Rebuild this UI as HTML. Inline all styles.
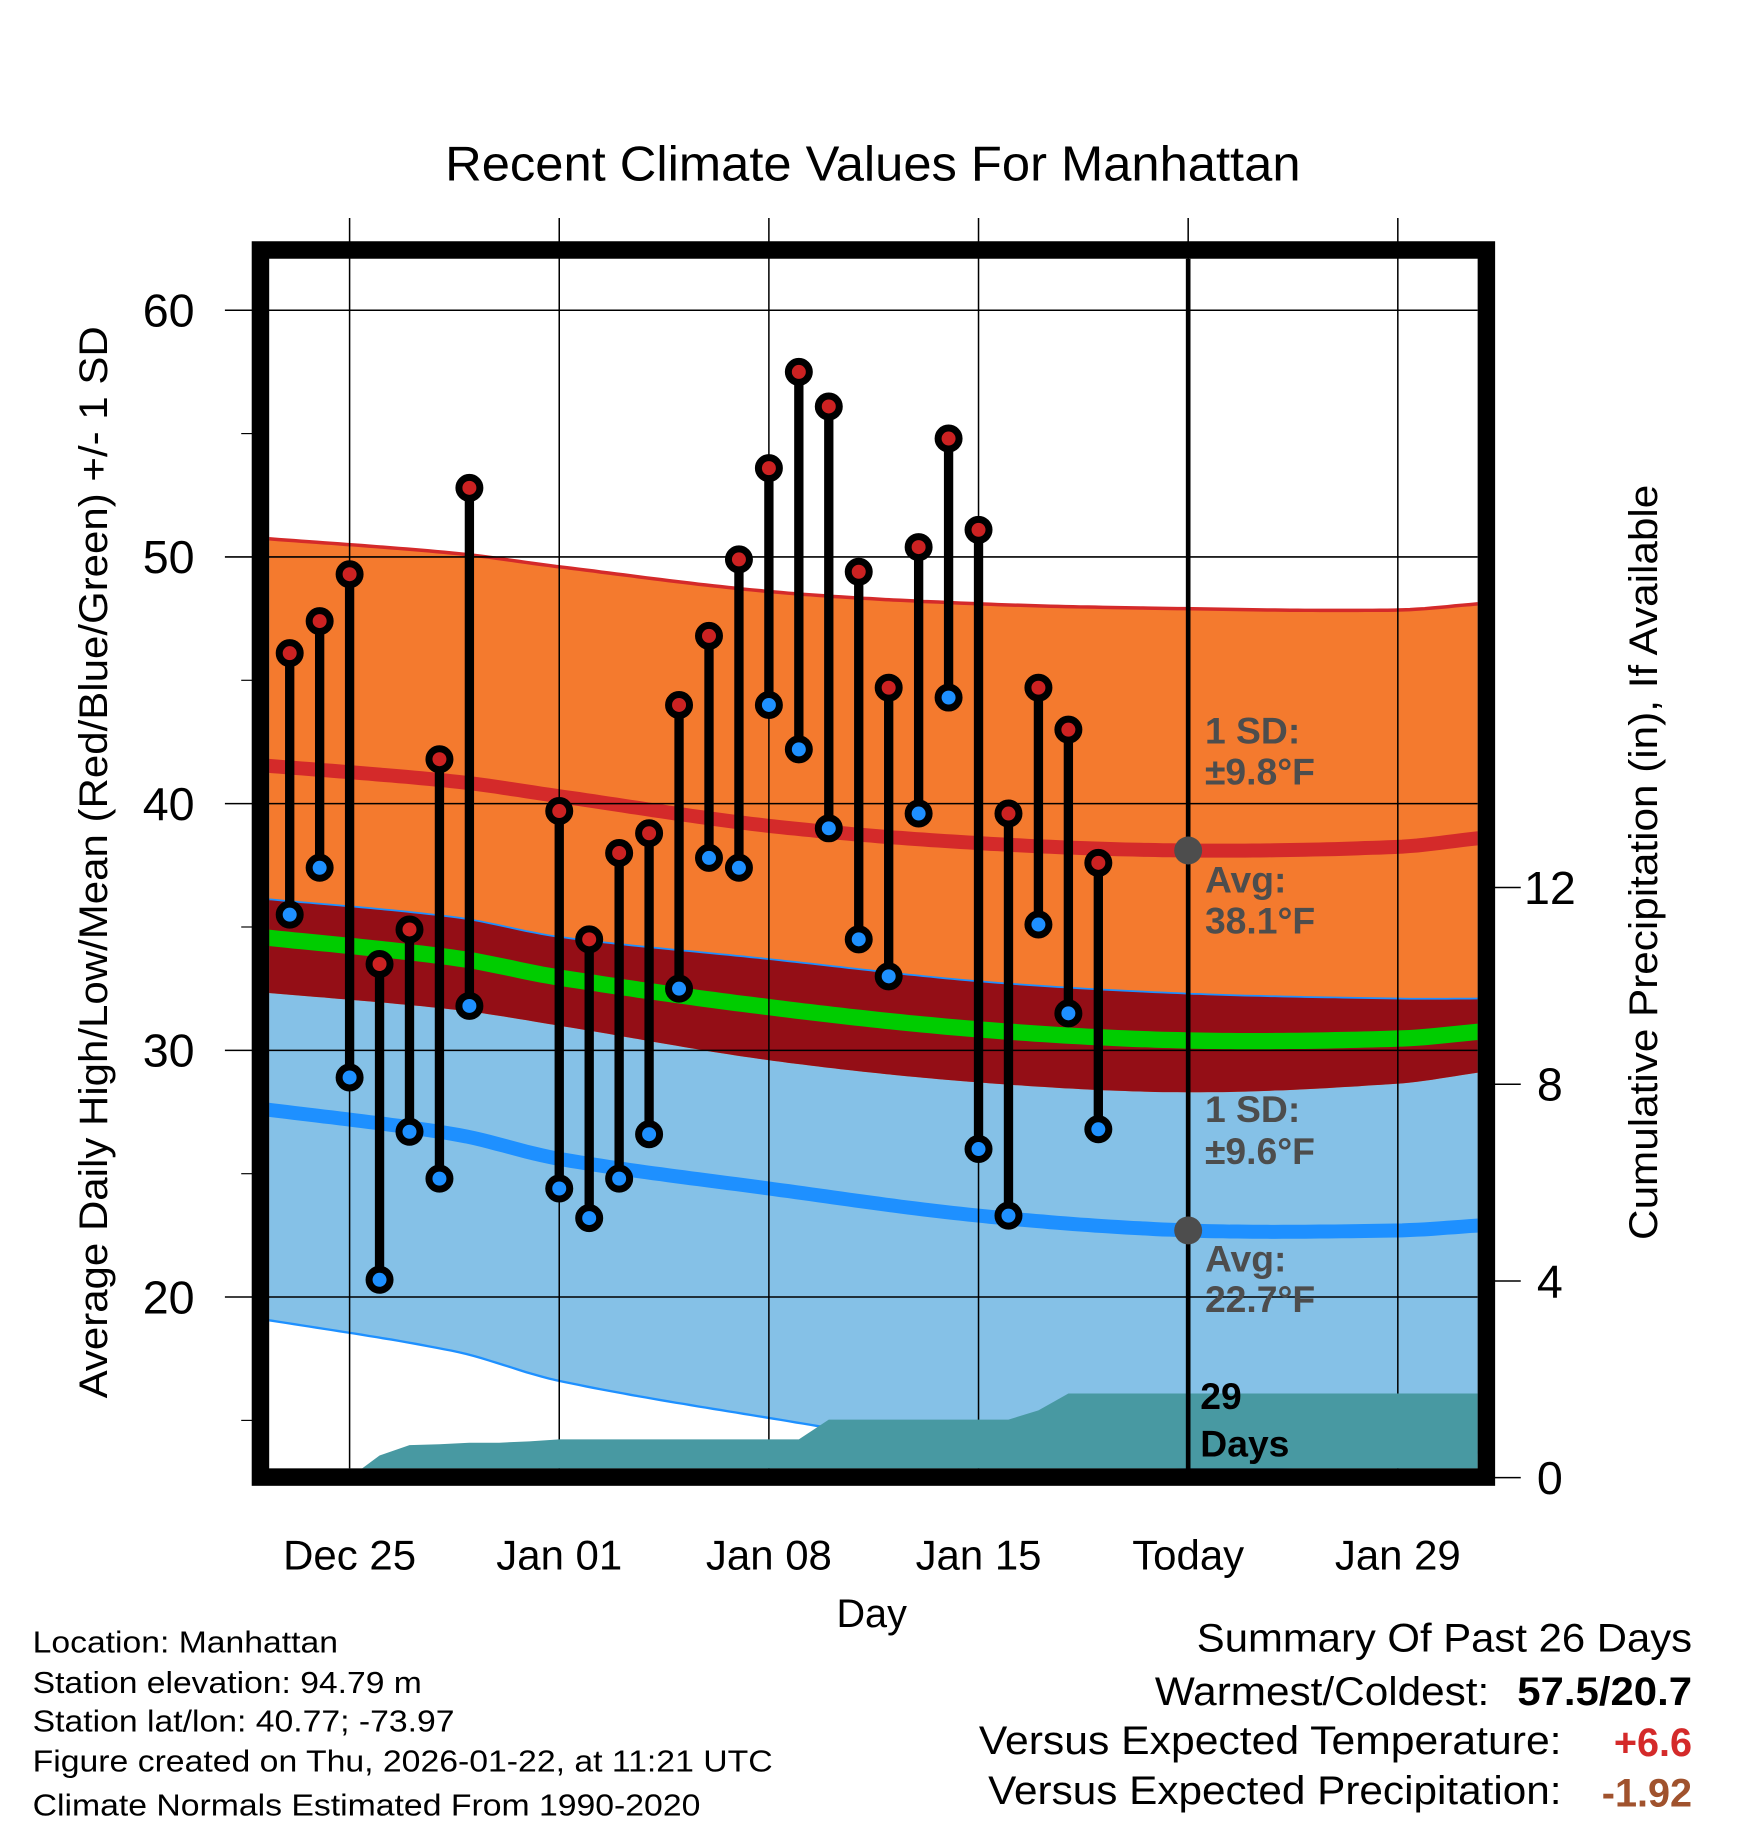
<!DOCTYPE html>
<html><head><meta charset="utf-8"><style>
html,body{margin:0;padding:0;background:#fff;}
svg{display:block;font-family:"Liberation Sans",Arial,sans-serif;}
</style></head><body>
<svg id="chart" width="1748" height="1828" viewBox="0 0 1500 1568.6" xmlns="http://www.w3.org/2000/svg">
<defs><clipPath id="pc"><rect x="231" y="222" width="1037" height="1038"/></clipPath></defs>
<text x="749" y="155" font-size="42" text-anchor="middle" textLength="734" lengthAdjust="spacingAndGlyphs">Recent Climate Values For Manhattan</text>
<g id="bands" clip-path="url(#pc)"></g>
<g id="grid"></g>
<g id="precip" clip-path="url(#pc)"></g>
<g id="marks"></g>
<g id="frame"></g>
<g id="labels"></g>
<text x="748" y="1396" font-size="34" text-anchor="middle">Day</text>
<text transform="translate(92,740) rotate(-90)" font-size="34" text-anchor="middle" textLength="920" lengthAdjust="spacingAndGlyphs">Average Daily High/Low/Mean (Red/Blue/Green) +/- 1 SD</text>
<text transform="translate(1422,740) rotate(-90)" font-size="34" text-anchor="middle" textLength="648" lengthAdjust="spacingAndGlyphs">Cumulative Precipitation (in), If Available</text>
<g font-size="26">
<text x="28" y="1418" textLength="262" lengthAdjust="spacingAndGlyphs">Location: Manhattan</text>
<text x="28" y="1453" textLength="334" lengthAdjust="spacingAndGlyphs">Station elevation: 94.79 m</text>
<text x="28" y="1486" textLength="362" lengthAdjust="spacingAndGlyphs">Station lat/lon: 40.77; -73.97</text>
<text x="28" y="1520" textLength="635" lengthAdjust="spacingAndGlyphs">Figure created on Thu, 2026-01-22, at 11:21 UTC</text>
<text x="28" y="1558" textLength="573" lengthAdjust="spacingAndGlyphs">Climate Normals Estimated From 1990-2020</text>
</g>
<g font-size="34">
<text x="1452" y="1417" text-anchor="end" textLength="425" lengthAdjust="spacingAndGlyphs">Summary Of Past 26 Days</text>
<text x="1278" y="1463" text-anchor="end" textLength="287" lengthAdjust="spacingAndGlyphs">Warmest/Coldest:</text>
<text x="1452" y="1463" text-anchor="end" font-weight="bold" textLength="150" lengthAdjust="spacingAndGlyphs">57.5/20.7</text>
<text x="1340" y="1505" text-anchor="end" textLength="500" lengthAdjust="spacingAndGlyphs">Versus Expected Temperature:</text>
<text x="1452" y="1507" text-anchor="end" font-weight="bold" fill="#d42a2a">+6.6</text>
<text x="1340" y="1548" text-anchor="end" textLength="492" lengthAdjust="spacingAndGlyphs">Versus Expected Precipitation:</text>
<text x="1452" y="1550" text-anchor="end" font-weight="bold" fill="#a0522d">-1.92</text>
</g>
</svg>
<script>
// days offset from Dec 25
const normDays=[-3.4,3.5,7,14,21,28,35,37.7];
const normHigh=[41.6,40.9,40.3,39.1,38.4,38.1,38.25,38.6];
const sdHigh=[9.2,9.25,9.3,9.5,9.7,9.8,9.6,9.5];
const normLow=[27.7,26.6,25.6,24.4,23.3,22.7,22.7,22.9];
const sdLow=[8.5,8.8,9.0,9.3,9.5,9.6,9.4,9.2];
const obsDays=[-2,-1,0,1,2,3,4,7,8,9,10,11,12,13,14,15,16,17,18,19,20,21,22,23,24,25];
const obsHigh=[46.1,47.4,49.3,33.5,34.9,41.8,52.8,39.7,34.5,38.0,38.8,44.0,46.8,49.9,53.6,57.5,56.1,49.4,44.7,50.4,54.8,51.1,39.6,44.7,43.0,37.6];
const obsLow=[35.5,37.4,28.9,20.7,26.7,24.8,31.8,24.4,23.2,24.8,26.6,32.5,37.8,37.4,44.0,42.2,39.0,34.5,33.0,39.6,44.3,26.0,23.3,35.1,31.5,26.8];
const precipDays=[0,1,2,3,4,5,6,7,8,9,10,11,12,13,14,15,16,17,18,19,20,21,22,23,24,25,37.7];
const precipCum=[0,0.45,0.66,0.68,0.71,0.71,0.74,0.78,0.78,0.78,0.78,0.78,0.78,0.78,0.78,0.78,1.18,1.18,1.18,1.18,1.18,1.18,1.18,1.37,1.71,1.71,1.71];
const xTicks=[0,7,14,21,28,35];
const xTickLabels=["Dec 25","Jan 01","Jan 08","Jan 15","Today","Jan 29"];
const yTicks=[20,30,40,50,60];
const yMinor=[15,25,35,45,55];
const pTicks=[0,4,8,12];

const X=d=>300+d*25.7, Y=t=>1113-(t-20)*21.17, P=p=>1268-p*42.2;
const NS='http://www.w3.org/2000/svg';
function mk(tag,attrs,parent){const e=document.createElementNS(NS,tag);for(const k in attrs)e.setAttribute(k,attrs[k]);parent.appendChild(e);return e;}
const dense=[];for(let d=-3.6;d<=38;d+=0.25)dense.push(d);
// monotone-ish smooth (catmull-rom) interpolation
function interp(xs,ys,d){const n=xs.length;if(d<=xs[0])return ys[0]+(ys[1]-ys[0])*(d-xs[0])/(xs[1]-xs[0]);if(d>=xs[n-1])return ys[n-1]+(ys[n-1]-ys[n-2])*(d-xs[n-1])/(xs[n-1]-xs[n-2]);
 let i=0;while(d>xs[i+1])i++;const h=xs[i+1]-xs[i],t=(d-xs[i])/h;
 const m=k=>{if(k<=0)return (ys[1]-ys[0])/(xs[1]-xs[0]);if(k>=n-1)return (ys[n-1]-ys[n-2])/(xs[n-1]-xs[n-2]);return (ys[k+1]-ys[k-1])/(xs[k+1]-xs[k-1]);};
 const h00=2*t*t*t-3*t*t+1,h10=t*t*t-2*t*t+t,h01=-2*t*t*t+3*t*t,h11=t*t*t-t*t;
 return h00*ys[i]+h10*h*m(i)+h01*ys[i+1]+h11*h*m(i+1);}
const H=dense.map(d=>interp(normDays,normHigh,d)),SH=dense.map(d=>interp(normDays,sdHigh,d));
const L=dense.map(d=>interp(normDays,normLow,d)),SL=dense.map(d=>interp(normDays,sdLow,d));
function line(vals){return dense.map((d,i)=>(i?'L':'M')+X(d).toFixed(1)+','+Y(vals[i]).toFixed(1)).join('');}
function area(top,bot){return line(top)+dense.slice().reverse().map((d,j)=>{const i=dense.length-1-j;return 'L'+X(d).toFixed(1)+','+Y(bot[i]).toFixed(1);}).join('')+'Z';}
const bands=document.getElementById('bands');
const hU=H.map((v,i)=>v+SH[i]),hD=H.map((v,i)=>v-SH[i]),lU=L.map((v,i)=>v+SL[i]),lD=L.map((v,i)=>v-SL[i]);
let e;
e=mk('path',{d:area(lU,lD),fill:'#85c1e7'},bands);
e=mk('path',{d:area(hU,hD),fill:'#f47a2e'},bands);
e=mk('path',{d:area(lU,hD),fill:'#940e16'},bands);
e=mk('path',{d:line(hU),fill:'none',stroke:'#d42a2a','stroke-width':3},bands);
e=mk('path',{d:line(lU),fill:'none',stroke:'#1e90ff','stroke-width':1.5},bands);
e=mk('path',{d:line(lD),fill:'none',stroke:'#1e90ff','stroke-width':2},bands);
e=mk('path',{d:line(H),fill:'none',stroke:'#d42a2a','stroke-width':12},bands);
e=mk('path',{d:line(L),fill:'none',stroke:'#1e90ff','stroke-width':12},bands);
e=mk('path',{d:line(H.map((v,i)=>(v+L[i])/2)),fill:'none',stroke:'#00cc00','stroke-width':14},bands);
const grid=document.getElementById('grid');
xTicks.forEach(d=>{e=mk('line',{x1:X(d),x2:X(d),y1:187,y2:1260,stroke:'#000','stroke-width':1.3},grid);});
yTicks.forEach(t=>{e=mk('line',{x1:193,x2:1268,y1:Y(t),y2:Y(t),stroke:'#000','stroke-width':1.3},grid);});
yMinor.forEach(t=>{e=mk('line',{x1:207,x2:218,y1:Y(t),y2:Y(t),stroke:'#000','stroke-width':1},grid);});
pTicks.forEach(p=>{e=mk('line',{x1:1282,x2:1305,y1:P(p),y2:P(p),stroke:'#000','stroke-width':1.3},grid);});
const pg=document.getElementById('precip');
let pd='M'+X(precipDays[0])+','+P(0);precipDays.forEach((d,i)=>pd+='L'+X(d).toFixed(1)+','+P(precipCum[i]).toFixed(1));pd+='L'+X(precipDays[precipDays.length-1])+','+P(0)+'Z';
e=mk('path',{d:pd,fill:'#4899a2'},pg);
const mg=document.getElementById('marks');
obsDays.forEach((d,i)=>{e=mk('line',{x1:X(d),x2:X(d),y1:Y(obsHigh[i]),y2:Y(obsLow[i]),stroke:'#000','stroke-width':8},mg);});
obsDays.forEach((d,i)=>{
 e=mk('circle',{cx:X(d),cy:Y(obsHigh[i]),r:9,fill:'#cc2222',stroke:'#000','stroke-width':6},mg);
 e=mk('circle',{cx:X(d),cy:Y(obsLow[i]),r:9,fill:'#1e90ff',stroke:'#000','stroke-width':6},mg);
});
e=mk('line',{x1:X(28),x2:X(28),y1:222,y2:1262,stroke:'#000','stroke-width':4},mg);
e=mk('circle',{cx:X(28),cy:Y(normHigh[5]),r:12,fill:'#4d4d4d'},mg);
e=mk('circle',{cx:X(28),cy:Y(normLow[5]),r:12,fill:'#4d4d4d'},mg);
const ann=[["1 SD:",638],["±9.8°F",673],["Avg:",766],["38.1°F",801],["1 SD:",963],["±9.6°F",999],["Avg:",1091],["22.7°F",1126]];
ann.forEach(a=>{e=mk('text',{x:1034,y:a[1],'font-size':32,'font-weight':'bold',fill:'#4d4d4d'},mg);e.textContent=a[0];});
e=mk('text',{x:1030,y:1209,'font-size':32,'font-weight':'bold'},mg);e.textContent='29';
e=mk('text',{x:1030,y:1250,'font-size':32,'font-weight':'bold'},mg);e.textContent='Days';
e=mk('rect',{x:223.5,y:214.5,width:1052,height:1053,fill:'none',stroke:'#000','stroke-width':15},document.getElementById('frame'));
const lg=document.getElementById('labels');
xTicks.forEach((d,i)=>{e=mk('text',{x:X(d),y:1347,'font-size':36,'text-anchor':'middle'},lg);e.textContent=xTickLabels[i];});
yTicks.forEach(t=>{e=mk('text',{x:167,y:Y(t)+14,'font-size':40,'text-anchor':'end'},lg);e.textContent=t;});
pTicks.forEach(p=>{e=mk('text',{x:1330,y:P(p)+14,'font-size':40,'text-anchor':'middle'},lg);e.textContent=p;});
</script>
</body></html>
